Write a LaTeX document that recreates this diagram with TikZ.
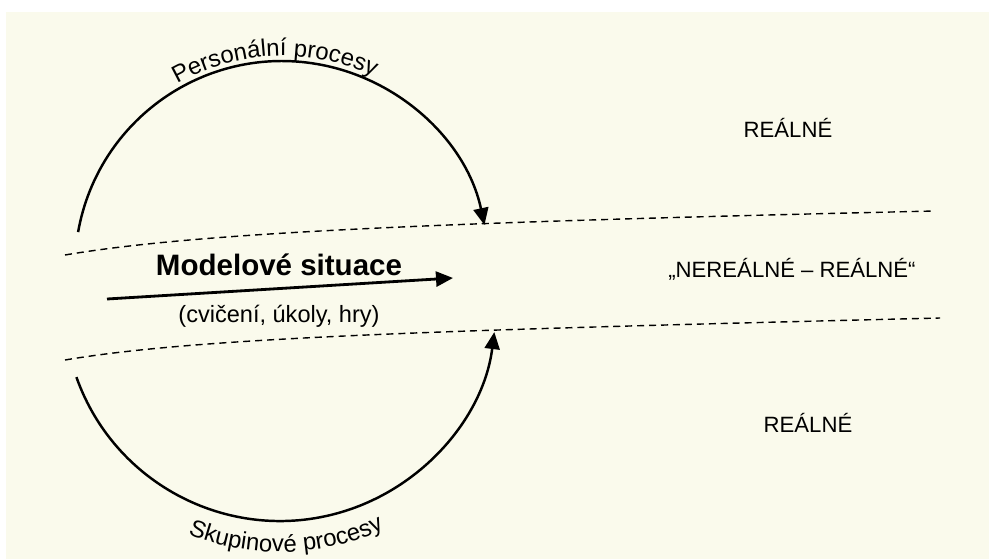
\documentclass[tikz,border=0pt]{standalone}
\usepackage{fontspec}
\setmainfont{Liberation Sans}
\usetikzlibrary{arrows.meta}
\usetikzlibrary{decorations.text}

\definecolor{paper}{RGB}{250,250,236}
\newcommand\arcfont{\fontsize{13.6}{16}\selectfont}

\tikzset{
    proc/.style={line width=1.4pt, -{Triangle[length=0.34cm, width=0.3cm]}},
    border/.style={line width=0.8pt, dash pattern=on 4pt off 2.8pt},
    zone/.style={anchor=base, font=\fontsize{12.6}{15}\selectfont},
}

\begin{document}
\begin{tikzpicture}[x=0.02cm, y=0.02cm]
            \useasboundingbox (0, 0) rectangle (989, 559);
            \fill [white] (0, 0) rectangle (989, 559);
            \fill [paper] (6, 0) rectangle (989, 547);

            % boundaries of the middle zone
            \coordinate (utop) at (65, 304);
            \coordinate (uend) at (935, 348);
            \coordinate (ltop) at (65, 199);
            \coordinate (lend) at (940, 241);
            \draw [border] (utop) .. controls (200, 327) and (450, 337) .. (uend);
            \draw [border] (ltop) .. controls (200, 222) and (450, 229) .. (lend);

            % personal processes
            \coordinate (pcentre) at (282, 291);
            \coordinate (pstart) at (78.1, 326.9);
            \draw [proc] (pstart) arc [start angle=170, end angle=12, radius=207];
            \path [decorate, decoration={text along path, text align=center,
                text={|\arcfont|Personální procesy}}]
                (pcentre) ++(152:212) arc [start angle=152, end angle=32, radius=212];

            % group processes
            \coordinate (scentre) at (280, 254);
            \coordinate (sstart) at (76.4, 181.9);
            \draw [proc] (sstart) arc [start angle=199.5, end angle=352.8, radius=216];
            \path [decorate, decoration={text along path, text align=center,
                text={|\arcfont|Skupinové procesy}}]
                (scentre) ++(240:247) arc [start angle=240, end angle=303, radius=247];

            % model situations
            \coordinate (mtail) at (107, 260);
            \coordinate (mhead) at (453, 281);
            \draw [proc, line width=1.6pt] (mtail) -- (mhead);
            \node [anchor=base, font=\fontsize{16.8}{20}\selectfont\bfseries] (model) at (279, 284) {Modelové situace};
            \node [anchor=base, font=\fontsize{13.4}{16}\selectfont] (forms) at (279, 237) {(cvičení, úkoly, hry)};

            \node [zone] (realtop) at (788, 422) {REÁLNÉ};
            \node [zone] (mixed) at (792, 282) {„NEREÁLNÉ – REÁLNÉ“};
            \node [zone] (realbot) at (808, 127) {REÁLNÉ};
        \end{tikzpicture}
\end{document}
